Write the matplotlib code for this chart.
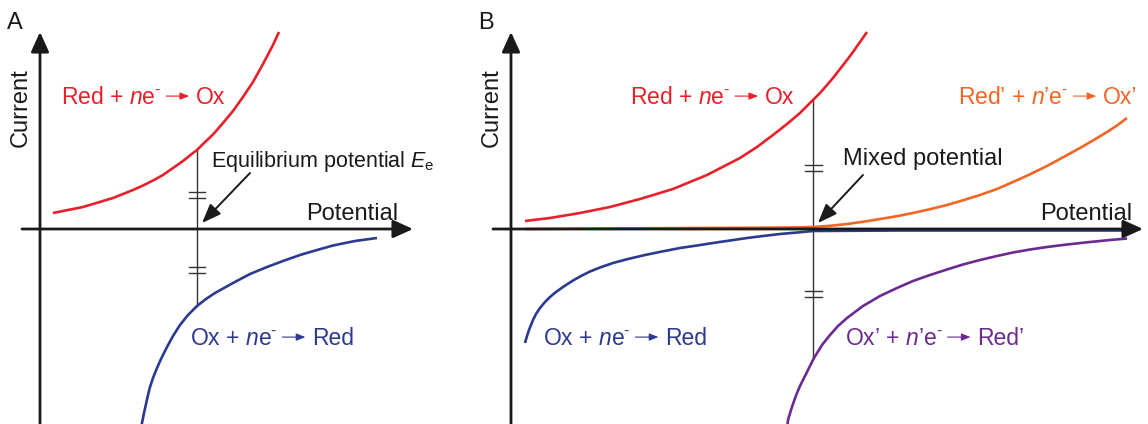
import matplotlib.pyplot as plt
from matplotlib.text import OffsetFrom

plt.rcParams['font.family'] = ['Liberation Sans', 'DejaVu Sans']
plt.rcParams['mathtext.fontset'] = 'custom'
plt.rcParams['mathtext.rm'] = 'Liberation Sans'
plt.rcParams['mathtext.it'] = 'Liberation Sans:italic'

# Panel A: single redox couple (potential / current in arbitrary units)
red_a_e = [0.13, 0.23, 0.33, 0.43, 0.53, 0.63, 0.73, 0.83, 0.93, 1.03, 1.13, 1.23, 1.33,
           1.43, 1.53, 1.57, 1.63, 1.73, 1.83, 1.93, 2.03, 2.13, 2.23, 2.33, 2.39]
red_a_i = [0.16, 0.18, 0.20, 0.22, 0.25, 0.28, 0.31, 0.35, 0.39, 0.435, 0.485, 0.54, 0.61,
           0.68, 0.76, 0.79, 0.85, 0.945, 1.06, 1.18, 1.32, 1.47, 1.65, 1.84, 1.97]
blue_a_e = [1.015, 1.02, 1.04, 1.06, 1.08, 1.10, 1.13, 1.17, 1.21, 1.27, 1.33, 1.40, 1.48, 1.57,
            1.66, 1.75, 1.84, 1.93, 2.10, 2.27, 2.43, 2.60, 2.77, 2.93, 3.15, 3.37]
blue_a_i = [-1.96, -1.94, -1.84, -1.75, -1.66, -1.58, -1.49, -1.39, -1.30, -1.18, -1.07, -0.96,
            -0.86, -0.77, -0.70, -0.64, -0.59, -0.54, -0.45, -0.38, -0.32, -0.26, -0.21, -0.165,
            -0.12, -0.09]
e_eq = 1.57
eq_top, eq_bottom = 0.79, -0.77
eq_marks = [0.34, -0.41]

# Panel B: two couples -> mixed potential
red_b_e = [0.14, 0.39, 0.69, 0.99, 1.29, 1.62, 1.96, 2.29, 2.46, 2.62, 2.76, 2.89, 3.02, 3.09,
           3.16, 3.22, 3.29, 3.36, 3.42, 3.49, 3.56]
red_b_i = [0.08, 0.11, 0.16, 0.22, 0.30, 0.40, 0.54, 0.71, 0.82, 0.94, 1.05, 1.16, 1.29, 1.36,
           1.44, 1.51, 1.60, 1.69, 1.77, 1.87, 1.97]
orange_e = [0.14, 0.89, 1.89, 2.69, 2.85, 3.02, 3.19, 3.36, 3.52, 3.69, 3.86, 4.02, 4.19, 4.36,
            4.52, 4.69, 4.86, 5.02, 5.19, 5.36, 5.52, 5.69, 5.82, 5.96, 6.06, 6.16]
orange_i = [0.0, 0.005, 0.01, 0.014, 0.016, 0.02, 0.032, 0.05, 0.072, 0.10, 0.128, 0.16, 0.198,
            0.24, 0.287, 0.34, 0.40, 0.47, 0.547, 0.63, 0.717, 0.81, 0.885, 0.97, 1.035, 1.11]
blue_b_e = [0.14, 0.16, 0.18, 0.20, 0.22, 0.25, 0.29, 0.34, 0.39, 0.45, 0.52, 0.62, 0.71, 0.79,
            0.89, 1.02, 1.17, 1.34, 1.51, 1.69, 1.86, 2.02, 2.19, 2.36, 2.52, 2.69, 2.86, 3.02,
            3.89, 4.89, 6.19]
blue_b_i = [-1.14, -1.07, -1.01, -0.96, -0.91, -0.85, -0.79, -0.73, -0.68, -0.63, -0.58, -0.515,
            -0.465, -0.425, -0.385, -0.34, -0.30, -0.26, -0.225, -0.19, -0.165, -0.14, -0.115,
            -0.09, -0.07, -0.05, -0.035, -0.02, -0.015, -0.015, -0.015]
purple_e = [2.765, 2.77, 2.80, 2.83, 2.86, 2.89, 2.93, 2.97, 3.03, 3.11, 3.19, 3.27, 3.36, 3.52,
            3.69, 3.86, 4.02, 4.19, 4.36, 4.52, 4.69, 4.86, 5.02, 5.19, 5.36, 5.56, 5.79, 5.99, 6.16]
purple_i = [-1.96, -1.91, -1.81, -1.72, -1.64, -1.57, -1.49, -1.41, -1.29, -1.16, -1.06, -0.97,
            -0.89, -0.77, -0.67, -0.59, -0.52, -0.46, -0.405, -0.355, -0.31, -0.27, -0.235,
            -0.205, -0.18, -0.155, -0.13, -0.11, -0.095]
e_mix = 3.02
mix_top, mix_bottom = 1.29, -1.29
mix_marks = [0.61, -0.65]

RED = '#E8202A'
BLUE = '#2B3990'
ORANGE = '#F26522'
PURPLE = '#6A2A92'
INK = '#1A1A1A'
FS = 16.5      # reaction labels
FS_AX = 17     # axis words

fig = plt.figure(figsize=(11.48, 4.24), dpi=100)
axA = fig.add_axes([0, 0, 480 / 1148, 1])
axB = fig.add_axes([480 / 1148, 0, 668 / 1148, 1])
axA.set_xlim(-0.40, 4.40)
axB.set_xlim(-0.31, 6.37)
for ax in (axA, axB):
    ax.set_ylim(-1.95, 2.29)
    ax.axis('off')


def draw_frame(ax, x_end, letter):
    big = dict(arrowstyle='-|>,head_length=1.1,head_width=0.5', lw=2.0, color=INK,
               mutation_scale=11, shrinkA=0, shrinkB=0)
    ax.annotate('', xy=(x_end, 0), xytext=(-0.18, 0), arrowprops=big)
    ax.annotate('', xy=(0, 1.97), xytext=(0, -1.96), arrowprops=big)
    ax.text(-0.25, 2.00, letter, fontsize=FS_AX, color=INK, ha='center', va='baseline')
    ax.text(-0.19, 1.21, 'Current', fontsize=FS_AX, color=INK, rotation=90,
            ha='center', va='center')


def draw_marker(ax, e, top, bottom, marks, label, label_xy, arrow_from, fs):
    ax.plot([e, e], [bottom, top], color='#333333', lw=1.0, zorder=1)
    for m in marks:
        for d in (-0.03, 0.03):
            ax.plot([e - 0.085, e + 0.085], [m + d, m + d], color='#333333', lw=1.0)
    ax.text(label_xy[0], label_xy[1], label, fontsize=fs, color=INK, va='baseline')
    ax.annotate('', xy=(e + 0.05, 0.06), xytext=arrow_from,
                arrowprops=dict(arrowstyle='-|>,head_length=1.3,head_width=0.5', lw=1.4,
                                color=INK, mutation_scale=9, shrinkA=0, shrinkB=0))


def reaction(ax, x, y, ox, red, color, prime=False):
    # "Ox + ne- -> Red" written as: left text, drawn arrow, right text
    p = '’' if prime else ''
    left = ox + p + r' + $\mathit{n}$' + p + r'e$^{\mathrm{‐}}$'
    t1 = ax.text(x, y, left, fontsize=FS, color=color, va='baseline')
    anchor = OffsetFrom(t1, (1, 0), unit='points')
    g1, length, g2, up = 3.5, 16.5, 5.0, 9.3
    ax.annotate('', xy=(g1 + length, up), xycoords=anchor,
                xytext=(g1, up), textcoords=anchor,
                arrowprops=dict(arrowstyle='-|>,head_length=0.55,head_width=0.22', lw=0.8,
                                color=color, mutation_scale=10, shrinkA=0, shrinkB=0))
    ax.annotate(red + p, xy=(1, 0), xycoords=t1, xytext=(g1 + length + g2, 0),
                textcoords='offset points', ha='left', va='bottom', fontsize=FS, color=color)


# ---- Panel A ----
draw_frame(axA, 3.73, 'A')
axA.plot(red_a_e, red_a_i, color=RED, lw=1.9, solid_capstyle='butt')
axA.plot(blue_a_e, blue_a_i, color=BLUE, lw=1.9, solid_capstyle='butt')
draw_marker(axA, e_eq, eq_top, eq_bottom, eq_marks,
            r'Equilibrium potential $\mathit{E}_{\mathrm{e}}$', (1.71, 0.62), (2.10, 0.56), 15.5)
axA.text(3.58, 0.09, 'Potential', fontsize=FS_AX, color=INK, ha='right', va='baseline')
reaction(axA, 0.21, 1.25, 'Red', 'Ox', RED)
reaction(axA, 1.50, -1.16, 'Ox', 'Red', BLUE)

# ---- Panel B ----
draw_frame(axB, 6.32, 'B')
axB.plot(red_b_e, red_b_i, color=RED, lw=1.9, solid_capstyle='butt')
axB.plot(purple_e, purple_i, color=PURPLE, lw=1.9, solid_capstyle='butt')
axB.plot(blue_b_e, blue_b_i, color=BLUE, lw=1.9, solid_capstyle='butt')
axB.plot(orange_e, orange_i, color=ORANGE, lw=1.9, solid_capstyle='butt')
draw_marker(axB, e_mix, mix_top, mix_bottom, mix_marks,
            'Mixed potential', (3.32, 0.64), (3.52, 0.54), FS_AX)
axB.text(6.21, 0.09, 'Potential', fontsize=FS_AX, color=INK, ha='right', va='baseline')
reaction(axB, 1.19, 1.25, 'Red', 'Ox', RED)
reaction(axB, 4.47, 1.25, 'Red', 'Ox', ORANGE, prime=True)
reaction(axB, 0.32, -1.16, 'Ox', 'Red', BLUE)
reaction(axB, 3.34, -1.16, 'Ox', 'Red', PURPLE, prime=True)

fig.savefig('out.png', dpi=100, facecolor='white')
